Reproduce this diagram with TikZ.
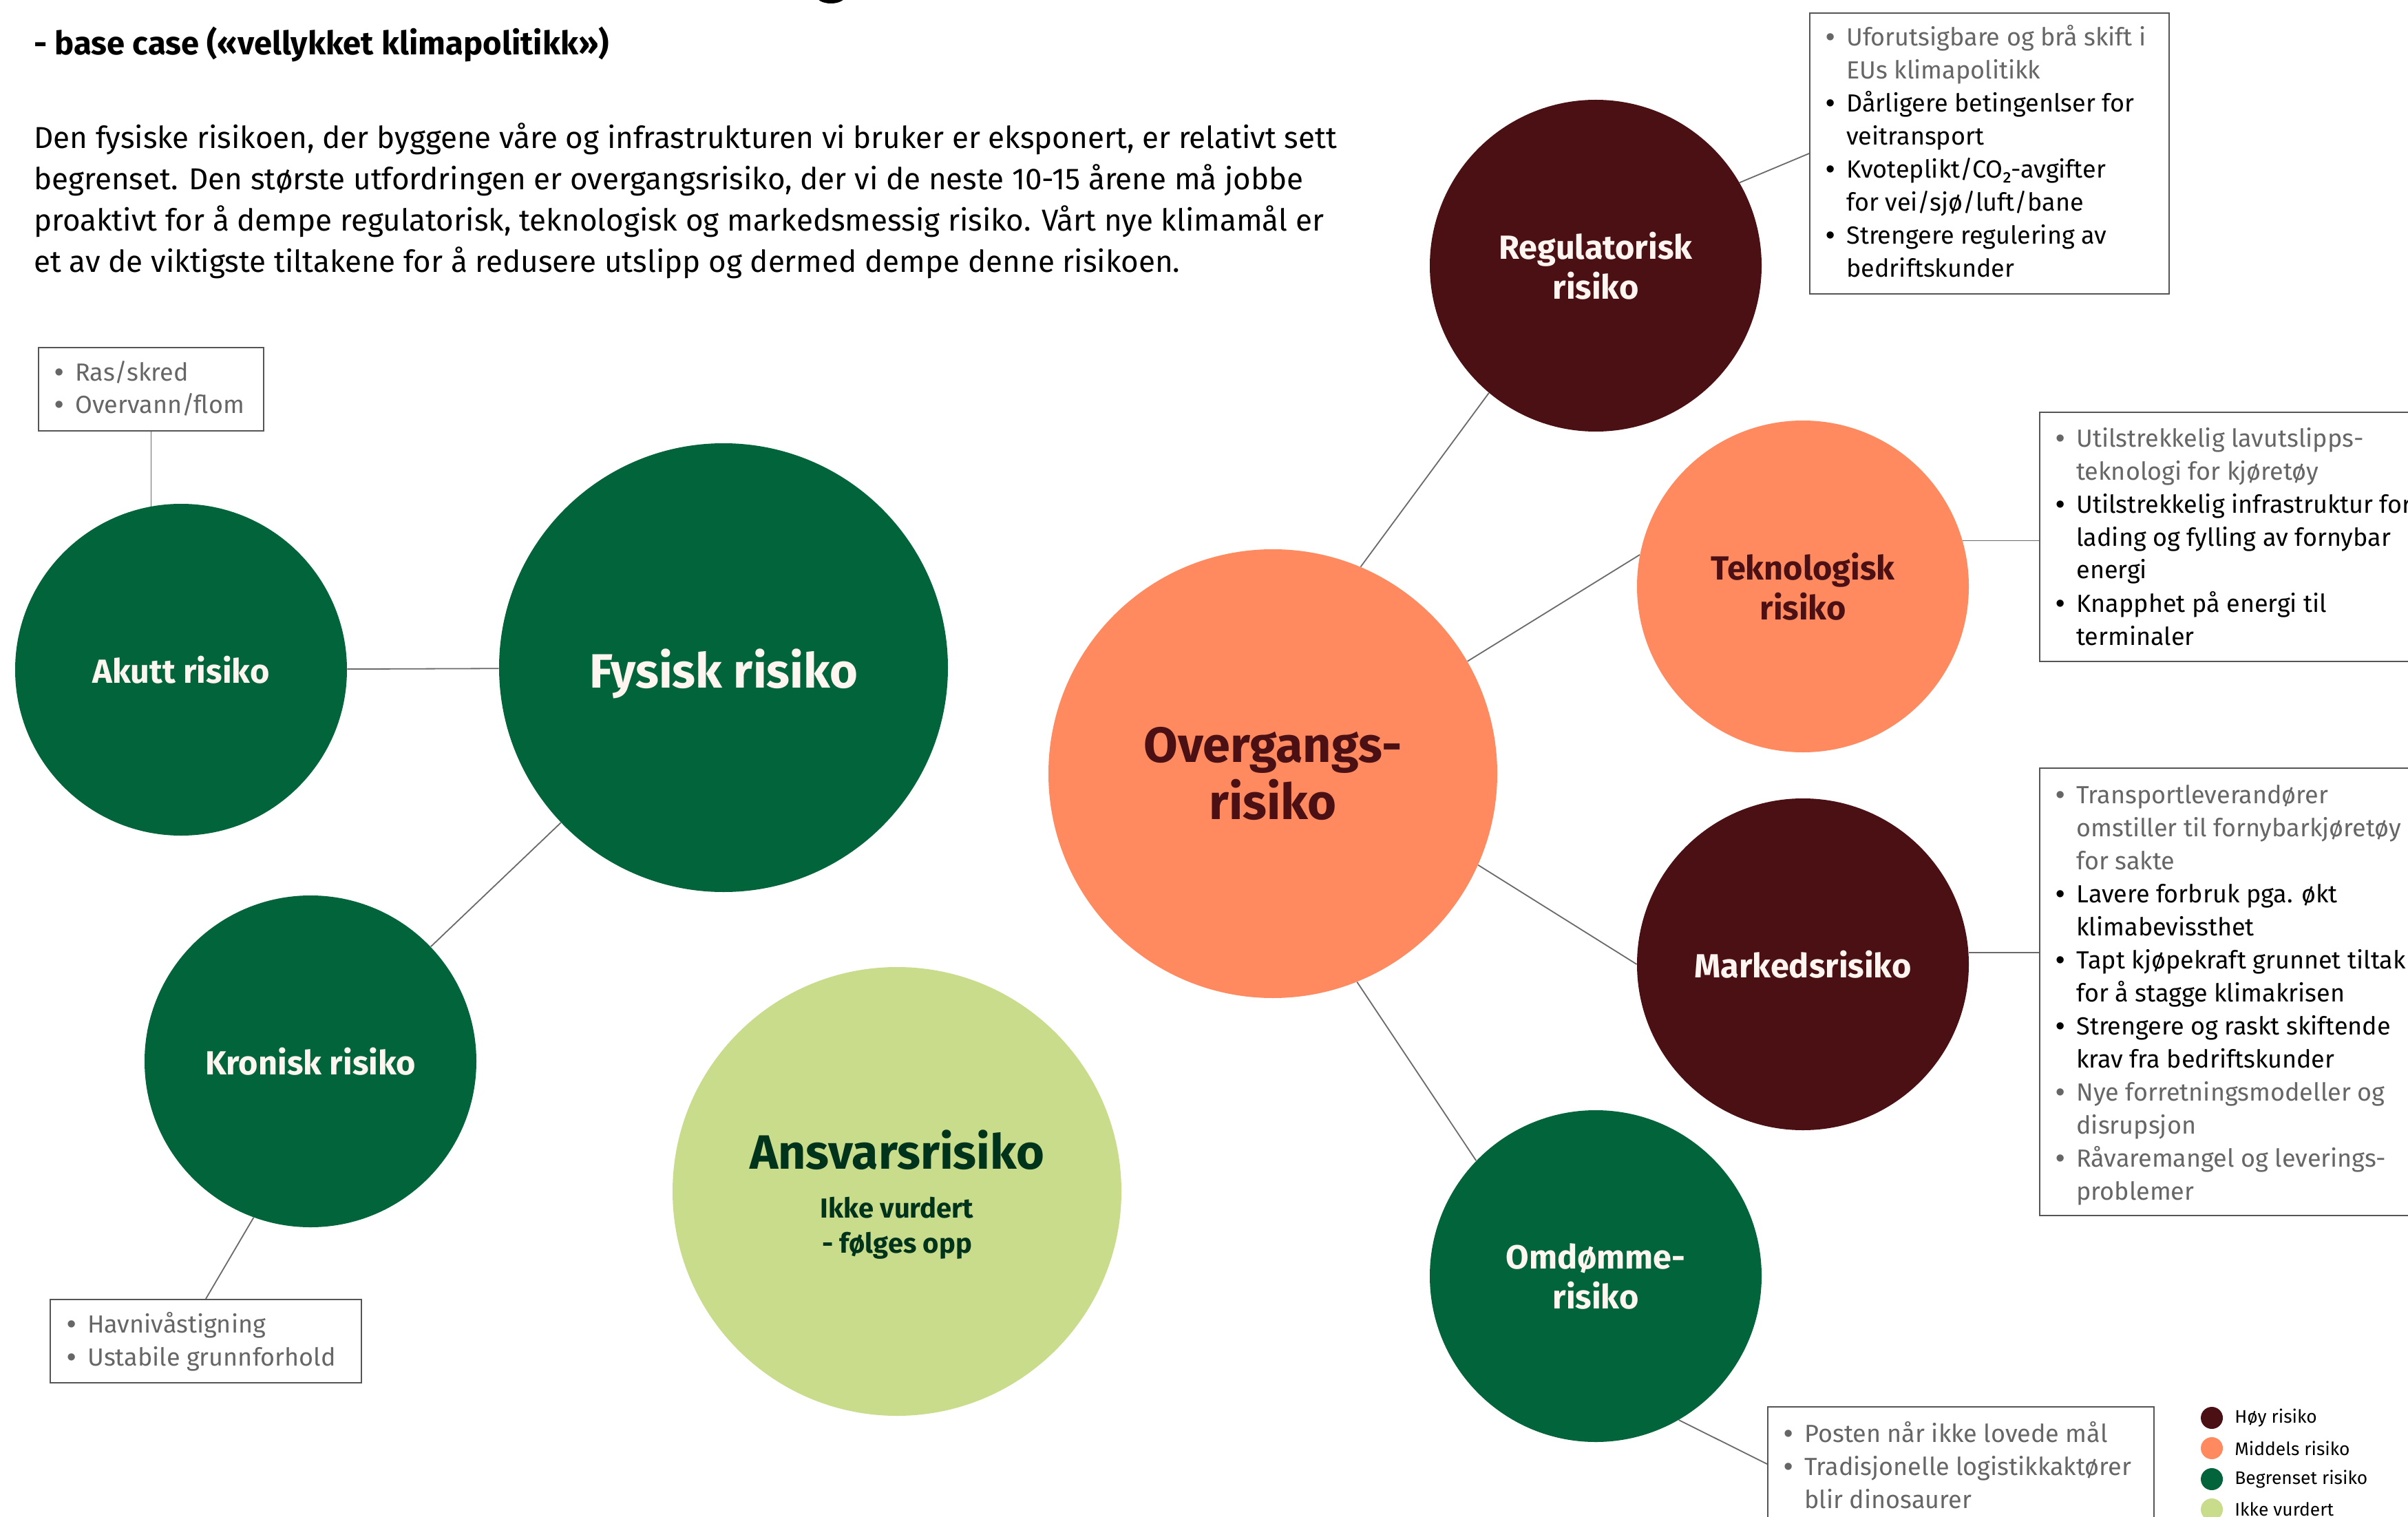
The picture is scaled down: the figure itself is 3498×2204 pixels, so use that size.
\documentclass[tikz,border=0pt]{standalone}
\usepackage{fontspec}
\setmainfont{Fira Sans}
\newfontfamily\bulfont{Liberation Sans}
\usetikzlibrary{calc}
\pgfdeclarelayer{bg}
\pgfsetlayers{bg,main}
\definecolor{maroon}{HTML}{4B1014}
\definecolor{orng}{HTML}{FF8A60}
\definecolor{grn}{HTML}{02643A}
\definecolor{lgrn}{HTML}{C9DC8B}
\definecolor{dgrn}{HTML}{00331B}
\definecolor{lnc}{HTML}{6A6A6A}
\definecolor{bxc}{HTML}{555555}
\definecolor{gtxt}{HTML}{666666}
\definecolor{offw}{HTML}{FFF5F0}
\newcommand{\bi}[1]{\makebox[15pt][l]{{\bulfont\fontsize{19}{24}\selectfont •}}#1}
\newcommand{\ci}[1]{\hspace*{15pt}#1}
\newcommand{\gbi}[1]{\textcolor{gtxt}{\bi{#1}}}
\newcommand{\gci}[1]{\textcolor{gtxt}{\ci{#1}}}
\tikzset{
  big/.style={circle, inner sep=0pt, minimum size=326pt, align=center},
  small/.style={circle, inner sep=0pt, minimum size=241pt, align=center,
    font=\fontsize{24.3}{29}\selectfont\bfseries},
  conn/.style={draw=lnc, line width=0.9pt},
  boxr/.style={draw=bxc, line width=1pt, inner sep=0pt, anchor=north west},
  btxt/.style={inner sep=0pt, anchor=base west, font=\fontsize{18}{24}\selectfont},
  ptxt/.style={inner sep=0pt, anchor=base west, font=\fontsize{22}{30}\selectfont},
  legdot/.style={circle, inner sep=0pt, minimum size=16pt},
  legtxt/.style={inner sep=0pt, anchor=west, font=\fontsize{13.2}{15}\selectfont}
}
\begin{document}
\begin{tikzpicture}[x=0.5pt, y=-0.5pt]
\useasboundingbox (0,0) rectangle (3498,2204);
\begin{pgfonlayer}{bg}
\fill[white] (0,0) rectangle (3498,2204);
\end{pgfonlayer}
% cut-off fragment of title
\fill[black] (1207,-6) ellipse [x radius=21, y radius=11];

% heading and paragraph
\node[inner sep=0pt, anchor=base west, font=\fontsize{23.6}{28}\selectfont\bfseries] (head) at (49,80) {- base case («vellykket klimapolitikk»)};
\node[ptxt] (p1) at (49,216) {Den fysiske risikoen, der byggene våre og infrastrukturen vi bruker er eksponert, er relativt sett};
\node[ptxt] (p2) at (49,276) {begrenset. Den største utfordringen er overgangsrisiko, der vi de neste 10-15 årene må jobbe};
\node[ptxt] (p3) at (49,336) {proaktivt for å dempe regulatorisk, teknologisk og markedsmessig risiko. Vårt nye klimamål er};
\node[ptxt] (p4) at (49,396) {et av de viktigste tiltakene for å redusere utslipp og dermed dempe denne risikoen.};

% circles
\node[small, fill=grn, text=offw] (akutt) at (263,973) {Akutt risiko};
\node[big, fill=grn] (fys) at (1051,970) {};
\node[inner sep=0pt, text=offw, font=\fontsize{35}{40}\selectfont\bfseries] (fyst) at (1051,979) {Fysisk risiko};
\node[small, fill=grn, text=offw] (kron) at (451,1542) {Kronisk risiko};
\node[big, fill=lgrn] (ans) at (1303,1731) {};
\node[inner sep=0pt, text=dgrn, font=\fontsize{35}{40}\selectfont\bfseries] (ans1) at (1303,1671) {Ansvarsrisiko};
\node[inner sep=0pt, text=dgrn, align=center, font=\fontsize{20}{25.5}\selectfont\bfseries] (ans2) at (1303,1784) {Ikke vurdert\\- følges opp};
\node[big, fill=orng, text=maroon, font=\fontsize{36}{41.5}\selectfont\bfseries] (over) at (1849,1124) {Overgangs-\\risiko};
\node[small, fill=maroon, text=offw] (reg) at (2318,386) {Regulatorisk\\risiko};
\node[small, fill=orng, text=maroon] (tek) at (2619,852) {Teknologisk\\risiko};
\node[small, fill=maroon, text=offw] (mark) at (2619,1401) {Markedsrisiko};
\node[small, fill=grn, text=offw] (omd) at (2318,1854) {Omdømme-\\risiko};

% boxes
\node[boxr, minimum width=163.5pt, minimum height=60.5pt] (rasbox) at (55,504) {};
\node[btxt] (rastxt) at (79,553) {\begin{tabular}[t]{@{}l@{}}
\gbi{Ras/skred}\\
\gbi{Overvann/flom}
\end{tabular}};
\node[boxr, minimum width=226pt, minimum height=60.5pt] (havnbox) at (72,1887) {};
\node[btxt] (havntxt) at (97,1936) {\begin{tabular}[t]{@{}l@{}}
\gbi{Havnivåstigning}\\
\gbi{Ustabile grunnforhold}
\end{tabular}};
\node[boxr, minimum width=261pt, minimum height=204pt] (regbox) at (2628,18) {};
\node[btxt] (regtxt) at (2652,67) {\begin{tabular}[t]{@{}l@{}}
\gbi{Uforutsigbare og brå skift i}\\
\gci{EUs klimapolitikk}\\
\bi{Dårligere betingenlser for}\\
\ci{veitransport}\\
\bi{Kvoteplikt/CO₂-avgifter}\\
\ci{for vei/sjø/luft/bane}\\
\bi{Strengere regulering av}\\
\ci{bedriftskunder}
\end{tabular}};
\node[boxr, minimum width=290pt, minimum height=181pt] (tekbox) at (2962,598) {};
\node[btxt] (tektxt) at (2986,649) {\begin{tabular}[t]{@{}l@{}}
\gbi{Utilstrekkelig lavutslipps-}\\
\gci{teknologi for kjøretøy}\\
\bi{Utilstrekkelig infrastruktur for}\\
\ci{lading og fylling av fornybar}\\
\ci{energi}\\
\bi{Knapphet på energi til}\\
\ci{terminaler}
\end{tabular}};
\node[boxr, minimum width=290pt, minimum height=325pt] (markbox) at (2962,1115) {};
\node[btxt] (marktxt) at (2986,1167) {\begin{tabular}[t]{@{}l@{}}
\gbi{Transportleverandører}\\
\gci{omstiller til fornybarkjøretøy}\\
\gci{for sakte}\\
\bi{Lavere forbruk pga. økt}\\
\ci{klimabevissthet}\\
\bi{Tapt kjøpekraft grunnet tiltak}\\
\ci{for å stagge klimakrisen}\\
\bi{Strengere og raskt skiftende}\\
\ci{krav fra bedriftskunder}\\
\gbi{Nye forretningsmodeller og}\\
\gci{disrupsjon}\\
\gbi{Råvaremangel og leverings-}\\
\gci{problemer}
\end{tabular}};
\node[boxr, minimum width=280.5pt, minimum height=83pt] (omdbox) at (2567,2043) {};
\node[btxt] (omdtxt) at (2591,2095) {\begin{tabular}[t]{@{}l@{}}
\gbi{Posten når ikke lovede mål}\\
\gbi{Tradisjonelle logistikkaktører}\\
\gci{blir dinosaurer}
\end{tabular}};

% legend
\node[legdot, fill=maroon] (l1) at (3213,2060) {};
\node[legdot, fill=orng] (l2) at (3213,2104) {};
\node[legdot, fill=grn] (l3) at (3213,2149) {};
\node[legdot, fill=lgrn] (l4) at (3213,2193) {};
\node[legtxt] (lt1) at (3246,2060) {Høy risiko};
\node[legtxt] (lt2) at (3246,2104) {Middels risiko};
\node[legtxt] (lt3) at (3246,2149) {Begrenset risiko};
\node[legtxt] (lt4) at (3246,2193) {Ikke vurdert};

% connectors
\begin{pgfonlayer}{bg}
\draw[conn] (akutt) -- (fys);
\draw[conn] (fys) -- (kron);
\draw[conn] (rasbox.south) -- (rasbox.south |- akutt.center);
\draw[conn] (havnbox.north) -- (kron.250);
\draw[conn] (over.67) -- (reg.230);
\draw[conn] (over.30) -- (tek.169);
\draw[conn] (over.-24) -- (mark.180);
\draw[conn] (over.-68) -- (omd.136);
\draw[conn] (reg.30) -- (regbox.west);
\draw[conn] (tek.16) -- (tek.16 -| tekbox.west);
\draw[conn] (mark.4) -- (mark.4 -| markbox.west);
\draw[conn] (omd.-60) -- (omdbox.west);
\end{pgfonlayer}
\end{tikzpicture}
\end{document}
